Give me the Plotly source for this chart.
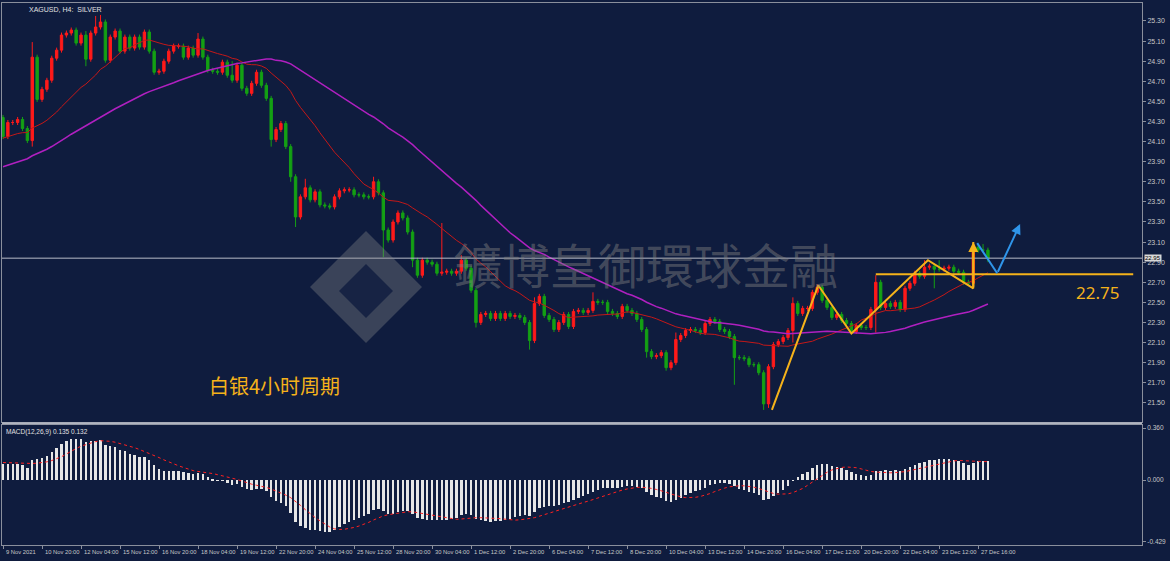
import plotly.graph_objects as go
import pandas as pd
import numpy as np

# ---------------- data ----------------
prehistory = [23.40,23.42,23.45,23.41,23.47,23.50,23.48,23.52,23.55,23.53,
              23.58,23.60,23.57,23.62,23.65,23.63,23.68,23.70,23.66,23.72,
              23.75,23.73,23.78,23.80,23.77,23.82,23.85,23.83,23.88,23.90,
              23.95,23.98,24.02,24.00,24.05,24.08,24.04,24.10,24.12,24.09,
              24.14,24.16,24.12,24.18,24.20,24.17,24.22,24.25,24.28,24.34]

closes = [24.15,24.29,24.29,24.32,24.23,24.11,24.94,24.52,24.62,24.71,
          24.93,25.01,25.16,25.18,25.21,25.08,25.16,24.92,25.18,25.24,
          25.29,24.91,25.14,25.20,25.00,25.14,25.03,25.14,25.04,25.19,
          25.00,24.79,24.80,24.90,25.00,25.05,25.05,24.94,25.03,24.96,
          25.12,24.94,24.81,24.80,24.79,24.89,24.76,24.71,24.86,24.63,
          24.58,24.68,24.79,24.66,24.53,24.12,24.22,24.28,24.05,23.75,
          23.35,23.55,23.64,23.52,23.60,23.47,23.46,23.45,23.55,23.61,
          23.62,23.62,23.57,23.57,23.55,23.55,23.70,23.59,23.22,23.12,
          23.30,23.39,23.34,23.20,22.92,22.77,22.92,22.90,22.88,22.79,
          22.80,22.81,22.79,22.81,22.92,22.84,22.62,22.30,22.38,22.39,
          22.34,22.39,22.34,22.39,22.36,22.37,22.35,22.30,22.12,22.49,
          22.56,22.37,22.33,22.23,22.30,22.38,22.26,22.41,22.42,22.40,
          22.42,22.51,22.50,22.50,22.41,22.39,22.36,22.46,22.42,22.39,
          22.33,22.23,22.01,21.96,21.97,22.00,21.85,21.90,22.13,22.17,
          22.22,22.23,22.22,22.20,22.29,22.33,22.31,22.23,22.21,22.16,
          21.95,21.95,21.94,21.88,21.88,21.80,21.49,21.86,22.08,22.11,
          22.15,22.22,22.49,22.39,22.44,22.44,22.60,22.65,22.52,22.45,
          22.35,22.38,22.32,22.29,22.21,22.27,22.25,22.25,22.43,22.70,
          22.45,22.49,22.46,22.50,22.43,22.64,22.69,22.79,22.76,22.85,
          22.86,22.83,22.83,22.84,22.85,22.81,22.80,22.70,22.69,23.05,
          23.02,23.02,22.94]
first_open = 24.34
default_wick = 0.025
high_override = {6:25.09,17:25.2,19:25.35,20:25.36,40:25.18,47:24.9,62:23.73,76:23.75,
                 90:23.29,94:22.97,109:22.55,121:22.6,138:22.2,162:22.55,167:22.68,
                 179:22.77,189:22.92,192:22.92,199:23.10,201:23.08}
low_override = {6:24.05,17:24.85,55:24.05,59:23.7,60:23.25,78:22.95,84:22.85,97:22.25,
                108:22.03,132:21.95,136:21.82,150:21.68,156:21.43,157:21.45,162:22.1,
                179:22.2,191:22.64,199:22.65,202:22.9}

date_labels = ["9 Nov 2021","10 Nov 20:00","12 Nov 04:00","15 Nov 12:00","16 Nov 20:00",
               "18 Nov 04:00","19 Nov 12:00","22 Nov 20:00","24 Nov 04:00","25 Nov 12:00",
               "28 Nov 20:00","30 Nov 04:00","1 Dec 12:00","2 Dec 20:00","6 Dec 04:00",
               "7 Dec 12:00","8 Dec 20:00","10 Dec 04:00","13 Dec 12:00","14 Dec 20:00",
               "16 Dec 04:00","17 Dec 12:00","20 Dec 20:00","22 Dec 04:00","23 Dec 12:00",
               "27 Dec 16:00"]
label_step = 8

price_ticks = [21.50,21.70,21.90,22.10,22.30,22.50,22.70,22.90,23.10,23.30,23.50,
               23.70,23.90,24.10,24.30,24.50,24.70,24.90,25.10,25.30]
macd_ticks = [0.360, 0.000, -0.429]

current_price = 22.94
support_level = 22.78
support_x = [179, 231.8]
zig_x = [157.7, 167.2, 174.0, 189.7, 199.0, 199.0]
zig_y = [21.43, 22.67, 22.19, 22.92, 22.64, 23.10]
blue_x = [199.8, 203.9, 208.6]
blue_y = [23.09, 22.79, 23.28]

# ---------------- computations ----------------
n = len(closes)
idx = list(range(n))
opens = [first_open] + closes[:-1]
highs = [high_override.get(i, max(opens[i], closes[i]) + default_wick) for i in idx]
lows = [low_override.get(i, min(opens[i], closes[i]) - default_wick) for i in idx]

full = pd.Series(prehistory + closes)
k = len(prehistory)
sma20 = full.rolling(20).mean().iloc[k:].values
sma50 = full.rolling(50, min_periods=1).mean().iloc[k:].values
macd = (full.ewm(span=12, adjust=False).mean() - full.ewm(span=26, adjust=False).mean())
signal = macd.rolling(9).mean()
macd_v = macd.iloc[k:].values
sig_v = signal.iloc[k:].values

BG = '#0f1c3e'
GRID = '#8a8f9c'
TXT = '#c8c8c8'
ORANGE = '#f5b21a'
TICKFONT = 'Liberation Sans'

fig = go.Figure()
fig.add_trace(go.Candlestick(x=idx, open=opens, high=highs, low=lows, close=closes,
    increasing=dict(line=dict(color='#ff1a1a', width=1), fillcolor='#ff1a1a'),
    decreasing=dict(line=dict(color='#14a014', width=1), fillcolor='#14a014'),
    whiskerwidth=0, showlegend=False, xaxis='x', yaxis='y'))
fig.add_trace(go.Scatter(x=idx, y=sma20, mode='lines', line=dict(color='#c41818', width=1),
                         showlegend=False))
fig.add_trace(go.Scatter(x=idx, y=sma50, mode='lines', line=dict(color='#b020c0', width=1.5),
                         showlegend=False))
fig.add_trace(go.Scatter(x=[-5, 300], y=[current_price]*2, mode='lines',
                         line=dict(color='#b8bcc8', width=1), showlegend=False))
fig.add_trace(go.Scatter(x=support_x, y=[support_level]*2, mode='lines',
                         line=dict(color=ORANGE, width=2), showlegend=False))
fig.add_trace(go.Scatter(x=zig_x, y=zig_y, mode='lines', line=dict(color=ORANGE, width=2),
                         showlegend=False))
fig.add_trace(go.Scatter(x=blue_x[:2], y=blue_y[:2], mode='lines', line=dict(color='#2f95ea', width=2),
                         showlegend=False))

fig.add_trace(go.Bar(x=idx, y=macd_v, marker=dict(color='#e6e6e6', line=dict(width=0)),
                     width=0.5, showlegend=False, xaxis='x2', yaxis='y2'))
fig.add_trace(go.Scatter(x=idx, y=sig_v, mode='lines', line=dict(color='#ff2020', width=1, dash='dot'),
                         showlegend=False, xaxis='x2', yaxis='y2'))

xr = [-0.205, 233.6]
main_dom = [0.227, 1.0]
macd_dom = [0.0, 0.2214]

fig.update_layout(
    width=1170, height=561, margin=dict(l=2, r=28, t=3, b=16),
    paper_bgcolor=BG, plot_bgcolor=BG, bargap=0,
    xaxis=dict(domain=[0, 1], range=xr, showgrid=False, zeroline=False, showticklabels=False,
               rangeslider=dict(visible=False), showline=True, mirror=True, linecolor=GRID,
               anchor='y'),
    yaxis=dict(domain=main_dom, range=[21.31, 25.479], side='right', showgrid=False, zeroline=False,
               tickvals=price_ticks, tickformat='.2f', ticks='outside', ticklen=3, tickcolor=GRID,
               tickfont=dict(size=7, color=TXT, family=TICKFONT), showline=True, mirror=True,
               linecolor=GRID),
    xaxis2=dict(domain=[0, 1], range=xr, anchor='y2', matches='x', showgrid=False, zeroline=False,
                tickvals=[i*label_step for i in range(len(date_labels))], showticklabels=False,
                ticks='outside', ticklen=3, tickcolor=GRID, showline=True, mirror=True, linecolor=GRID),
    yaxis2=dict(domain=macd_dom, range=[-0.45, 0.381], side='right', showgrid=False, zeroline=False,
                tickvals=macd_ticks, ticktext=['0.360', '0.000', '-0.429'], ticks='outside', ticklen=3,
                tickcolor=GRID, tickfont=dict(size=6.5, color=TXT, family=TICKFONT),
                showline=True, mirror=True, linecolor=GRID),
)

ann = []
for i, lab in enumerate(date_labels):
    ann.append(dict(x=i*label_step, y=0, xref='x2', yref='paper', text=lab, showarrow=False,
                    xanchor='left', yanchor='top', yshift=-2, xshift=1,
                    font=dict(size=5.8, color=TXT, family=TICKFONT)))
ann += [
    dict(x=0.022, y=1, xref='paper', yref='paper', text='XAGUSD, H4:  SILVER', showarrow=False,
         xanchor='left', yanchor='top', yshift=-1, font=dict(size=7, color='#e0e0e0', family=TICKFONT)),
    dict(x=0.002, y=macd_dom[1], xref='paper', yref='paper', text='MACD(12,26,9) 0.135 0.132',
         showarrow=False, xanchor='left', yanchor='top', yshift=-1,
         font=dict(size=6.5, color='#e0e0e0', family=TICKFONT)),
    dict(x=1, y=current_price, xref='paper', yref='y', text='22.95', showarrow=False, xanchor='left',
         xshift=2, bgcolor='#d8d8d8', font=dict(size=6, color='#000', family=TICKFONT),
         borderpad=0),
    dict(x=0.18, y=21.67, xref='paper', yref='y', text='白银4小时周期', showarrow=False, xanchor='left',
         font=dict(size=20, color=ORANGE, family='Noto Sans CJK SC')),
    dict(x=0.94, y=22.6, xref='paper', yref='y', text='22.75', showarrow=False, xanchor='left',
         font=dict(size=17, color=ORANGE, family='Noto Sans')),
    dict(x=0.565, y=0.52, xref='paper', yref='paper', text='鑛博皇御環球金融', showarrow=False,
         font=dict(size=48, color='rgba(130,130,130,0.45)', family='Noto Sans CJK TC')),
    dict(x=zig_x[-1], y=zig_y[-1], ax=zig_x[-2], ay=zig_y[-2], xref='x', yref='y', axref='x', ayref='y',
         text='', showarrow=True, arrowhead=2, arrowsize=1, arrowwidth=2, arrowcolor=ORANGE),
    dict(x=blue_x[2], y=blue_y[2], ax=blue_x[1], ay=blue_y[1], xref='x', yref='y', axref='x', ayref='y',
         text='', showarrow=True, arrowhead=2, arrowsize=1, arrowwidth=2, arrowcolor='#2f95ea'),
]
fig.update_layout(annotations=ann)

def px(xp, yp):
    return (xp - 2) / 1140, (545 - yp) / 542
cx, cy = 366, 287
def diamond(r, dy=0):
    pts = [px(cx, cy - r + dy), px(cx + r, cy + dy), px(cx, cy + r + dy), px(cx - r, cy + dy)]
    return 'M ' + ' L '.join(f'{a:.4f},{b:.4f}' for a, b in pts) + ' Z'
fig.add_shape(type='path', path=diamond(56), xref='paper', yref='paper',
              fillcolor='rgba(140,140,140,0.35)', line=dict(width=0), layer='above')
fig.add_shape(type='path', path=diamond(27, 4), xref='paper', yref='paper',
              fillcolor='rgba(15,28,62,0.8)', line=dict(width=0), layer='above')
fig.add_shape(type='line', xref='paper', yref='paper', x0=0, x1=1.0, y0=0.2245, y1=0.2245,
              line=dict(color='#b0b4c0', width=2))

fig.write_html('out.html', config={'displayModeBar': False},
               post_script="document.body.style.margin='0';document.body.style.overflow='hidden';")
